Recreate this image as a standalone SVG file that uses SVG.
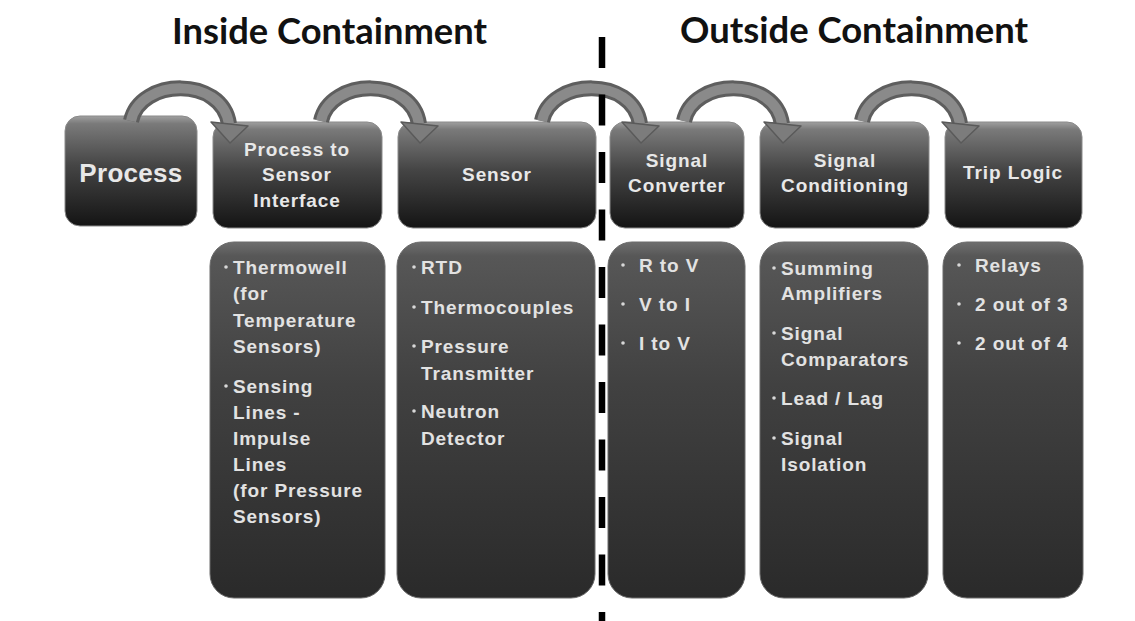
<svg xmlns="http://www.w3.org/2000/svg" width="1135" height="621" viewBox="0 0 1135 621">
<defs>
<linearGradient id="gTop" x1="0" y1="0" x2="0" y2="1">
<stop offset="0" stop-color="#a0a0a0"/>
<stop offset="0.07" stop-color="#7a7a7a"/>
<stop offset="0.45" stop-color="#454545"/>
<stop offset="1" stop-color="#141414"/>
</linearGradient>
<linearGradient id="gLow" x1="0" y1="0" x2="0" y2="1">
<stop offset="0" stop-color="#6e6e6e"/>
<stop offset="0.04" stop-color="#575757"/>
<stop offset="0.4" stop-color="#414141"/>
<stop offset="1" stop-color="#2a2a2a"/>
</linearGradient>
<path id="arc" d="M9,121 C18,78 100,76 107,124"/>
<g id="arrow">
<use href="#arc" fill="none" stroke="#5e5e5e" stroke-width="16"/>
<use href="#arc" fill="none" stroke="#8a8a8a" stroke-width="10"/>
<polygon points="89,122 126,126 108,143" fill="#7c7c7c" stroke="#5a5a5a" stroke-width="1.5" stroke-linejoin="round"/>
</g>
</defs>
<style>
.top{fill:url(#gTop);stroke:#8a8a8a;stroke-width:1}
.low{fill:url(#gLow);stroke:#6a6a6a;stroke-width:1}
.ht{font-family:"Liberation Sans",Arial,sans-serif;font-weight:bold;font-size:19px;letter-spacing:0.9px;fill:#e8e8e8;text-anchor:middle}
.lt{font-family:"Liberation Sans",Arial,sans-serif;font-weight:bold;font-size:19px;letter-spacing:0.9px;fill:#e2e2e2}
.bul{fill:#d8d8d8}
.hdr{font-family:Lato,"Open Sans",sans-serif;font-weight:bold;font-size:36px;fill:#111}
</style>
<rect width="1135" height="621" fill="#ffffff"/>

<text class="hdr" x="172" y="44" textLength="315" lengthAdjust="spacingAndGlyphs">Inside Containment</text>
<text class="hdr" x="680" y="43" textLength="348" lengthAdjust="spacingAndGlyphs">Outside Containment</text>

<g id="node-process">
<rect class="top" x="65" y="116" width="132" height="110" rx="15"/>
<text class="ht" x="131" y="182" style="font-size:26px;letter-spacing:0.3px">Process</text>
</g>
<g id="node-interface">
<rect class="top" x="213" y="122" width="169" height="106" rx="15"/>
<text class="ht" x="297" y="156">Process to</text>
<text class="ht" x="297" y="181">Sensor</text>
<text class="ht" x="297" y="207">Interface</text>
</g>
<g id="node-sensor">
<rect class="top" x="398" y="122" width="198" height="106" rx="15"/>
<text class="ht" x="497" y="181">Sensor</text>
</g>
<g id="node-converter">
<rect class="top" x="610" y="122" width="134" height="106" rx="15"/>
<text class="ht" x="677" y="167">Signal</text>
<text class="ht" x="677" y="192">Converter</text>
</g>
<g id="node-conditioning">
<rect class="top" x="760" y="122" width="169" height="106" rx="15"/>
<text class="ht" x="845" y="167">Signal</text>
<text class="ht" x="845" y="192">Conditioning</text>
</g>
<g id="node-trip">
<rect class="top" x="945" y="122" width="137" height="106" rx="15"/>
<text class="ht" x="1013" y="179">Trip Logic</text>
</g>

<g id="list-interface">
<rect class="low" x="210" y="242" width="175" height="356" rx="24"/>
<circle class="bul" cx="226" cy="267" r="1.8"/>
<text class="lt" x="233" y="274">Thermowell</text>
<text class="lt" x="233" y="300">(for</text>
<text class="lt" x="233" y="327">Temperature</text>
<text class="lt" x="233" y="353">Sensors)</text>
<circle class="bul" cx="226" cy="386" r="1.8"/>
<text class="lt" x="233" y="393">Sensing</text>
<text class="lt" x="233" y="419">Lines -</text>
<text class="lt" x="233" y="445">Impulse</text>
<text class="lt" x="233" y="471">Lines</text>
<text class="lt" x="233" y="497">(for Pressure</text>
<text class="lt" x="233" y="523">Sensors)</text>
</g>
<g id="list-sensor">
<rect class="low" x="397" y="242" width="198" height="356" rx="24"/>
<circle class="bul" cx="414" cy="267" r="1.8"/>
<text class="lt" x="421" y="274">RTD</text>
<circle class="bul" cx="414" cy="307" r="1.8"/>
<text class="lt" x="421" y="314">Thermocouples</text>
<circle class="bul" cx="414" cy="346" r="1.8"/>
<text class="lt" x="421" y="353">Pressure</text>
<text class="lt" x="421" y="380">Transmitter</text>
<circle class="bul" cx="414" cy="411" r="1.8"/>
<text class="lt" x="421" y="418">Neutron</text>
<text class="lt" x="421" y="445">Detector</text>
</g>
<g id="list-converter">
<rect class="low" x="608" y="242" width="137" height="356" rx="24"/>
<circle class="bul" cx="623" cy="265" r="1.8"/>
<text class="lt" x="639" y="272">R to V</text>
<circle class="bul" cx="623" cy="304" r="1.8"/>
<text class="lt" x="639" y="311">V to I</text>
<circle class="bul" cx="623" cy="343" r="1.8"/>
<text class="lt" x="639" y="350">I to V</text>
</g>
<g id="list-conditioning">
<rect class="low" x="760" y="242" width="168" height="356" rx="24"/>
<circle class="bul" cx="774" cy="268" r="1.8"/>
<text class="lt" x="781" y="275">Summing</text>
<text class="lt" x="781" y="300">Amplifiers</text>
<circle class="bul" cx="774" cy="333" r="1.8"/>
<text class="lt" x="781" y="340">Signal</text>
<text class="lt" x="781" y="366">Comparators</text>
<circle class="bul" cx="774" cy="398" r="1.8"/>
<text class="lt" x="781" y="405">Lead / Lag</text>
<circle class="bul" cx="774" cy="438" r="1.8"/>
<text class="lt" x="781" y="445">Signal</text>
<text class="lt" x="781" y="471">Isolation</text>
</g>
<g id="list-trip">
<rect class="low" x="943" y="242" width="140" height="356" rx="24"/>
<circle class="bul" cx="959" cy="265" r="1.8"/>
<text class="lt" x="975" y="272">Relays</text>
<circle class="bul" cx="959" cy="304" r="1.8"/>
<text class="lt" x="975" y="311">2 out of 3</text>
<circle class="bul" cx="959" cy="343" r="1.8"/>
<text class="lt" x="975" y="350">2 out of 4</text>
</g>

<g id="connectors">
<use href="#arrow" transform="translate(122,0)"/>
<use href="#arrow" transform="translate(312,0)"/>
<use href="#arrow" transform="translate(533,0)"/>
<use href="#arrow" transform="translate(675,0)"/>
<use href="#arrow" transform="translate(853,0)"/>
</g>

<line id="boundary" x1="602" y1="37" x2="602" y2="621" stroke="#000" stroke-width="6.5" stroke-dasharray="31 26.5"/>
</svg>
